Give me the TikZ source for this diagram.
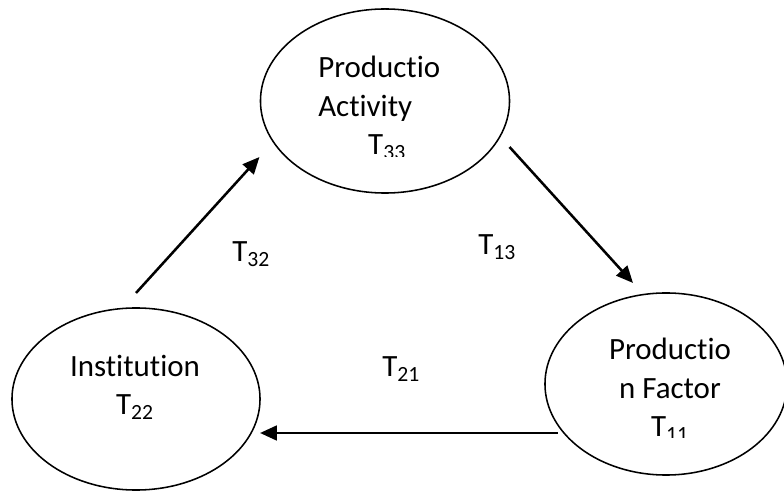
\documentclass[tikz,border=0pt]{standalone}
\usepackage{fontspec}
\setmainfont{Carlito}[Ligatures=NoCommon]
\usetikzlibrary{shapes.geometric, arrows.meta}

\tikzset{
  sector/.style={ellipse, draw, line width=1.1pt, outer sep=0pt,
    minimum width=6.2cm, minimum height=4.55cm},
  flow/.style={-{Triangle[length=12pt, width=10.5pt]}, line width=1.8pt},
  lbl/.style={font=\fontsize{22}{27.7}\selectfont, inner sep=0pt, anchor=base west}
}

\begin{document}
\begin{tikzpicture}[x=0.025cm, y=-0.025cm]
  \useasboundingbox (0,0) rectangle (784,491);

  %Define nodes
  \node[sector, minimum width=6.225cm, minimum height=4.6cm] (act) at (385,101) {};
  \node[sector]                       (inst) at (136,399) {};
  \node[sector, minimum width=6.05cm] (fac) at (666,384) {};

  % Texts in the ellipses (text boxes cut off at the bottom)
  \begin{scope}
    \clip (290,30) rectangle (480,157);
    \node[lbl, align=left] (actlbl) at (318,155)
      {Productio\\Activity\\\hspace*{35.5pt}T\textsubscript{33}};
  \end{scope}
  \begin{scope}
    \clip (580,320) rectangle (760,438);
    \node[lbl, align=center, anchor=base] (faclbl) at (670,437)
      {Productio\\n Factor\\T\textsubscript{11}};
  \end{scope}
  \node[lbl, align=center, anchor=base] (instlbl) at (135,415)
    {Institution\\T\textsubscript{22}};

  % Flow labels
  \node[lbl] (t32) at (232,262) {T\textsubscript{32}};
  \node[lbl] (t13) at (478,255) {T\textsubscript{13}};
  \node[lbl] (t21) at (382,377) {T\textsubscript{21}};

  % Connect the nodes
  \draw[flow] ([shift={(0,-15)}]inst.north) -- ([shift={(-1,56)}]act.west);
  \draw[flow] ([shift={(0,46)}]act.east) -- ([shift={(-33,-10)}]fac.north);
  \draw[flow] ([shift={(13,49)}]fac.west) -- ([shift={(0,34)}]inst.east);
\end{tikzpicture}
\end{document}
